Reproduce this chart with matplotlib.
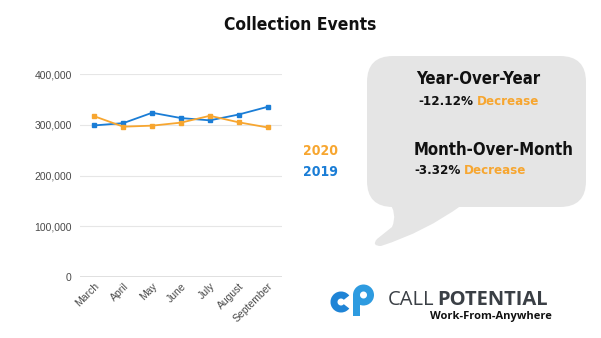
import numpy as np
import matplotlib.pyplot as plt
from matplotlib import patches, font_manager
from matplotlib.path import Path
from matplotlib.ticker import FuncFormatter

months = ['March', 'April', 'May', 'June', 'July', 'August', 'September']
events_2019 = [299000, 303500, 324000, 313500, 309000, 320500, 335700]
events_2020 = [317000, 296500, 298500, 304500, 318000, 305100, 295000]
yticks = [0, 100000, 200000, 300000, 400000]

BLUE = '#1a7dd6'
ORANGE = '#f7a630'
GREY_BUBBLE = '#e5e5e5'


def find_condensed_bold():
    # look for any installed condensed / narrow bold face
    for f in font_manager.fontManager.ttflist:
        nm = (f.name + ' ' + str(f.stretch)).lower()
        if ('condensed' in nm or 'narrow' in nm) and f.weight in (700, 'bold'):
            return font_manager.FontProperties(fname=f.fname)
    return None


COND_FP = find_condensed_bold()
FOUND = COND_FP is not None


def cond(size):
    if FOUND:
        fp = COND_FP.copy()
        fp.set_size(size)
        return dict(fontproperties=fp)
    return dict(family=['Roboto', 'DejaVu Sans'], weight='bold', fontsize=size * 0.82)


W, H = 601, 338
fig = plt.figure(figsize=(W / 100, H / 100), dpi=100)

bg = fig.add_axes([0, 0, 1, 1], zorder=0)
bg.set_xlim(0, W)
bg.set_ylim(H, 0)
bg.axis('off')

# speech bubble
bubble = patches.FancyBboxPatch((367, 56), 219, 151,
                                boxstyle='round,pad=0,rounding_size=26',
                                fc=GREY_BUBBLE, ec='none')
bg.add_patch(bubble)
tail = Path([(388, 200), (398, 214), (392, 227), (377, 239),
             (371, 246), (381, 246), (425, 232), (462, 205), (388, 200)],
            [Path.MOVETO, Path.CURVE3, Path.CURVE3, Path.LINETO,
             Path.CURVE3, Path.CURVE3, Path.CURVE3, Path.CURVE3, Path.CLOSEPOLY])
bg.add_patch(patches.PathPatch(tail, fc=GREY_BUBBLE, ec='none'))

# title
fig.text(300 / W, 1 - 25 / H, 'Collection Events', ha='center', va='center',
         color='#111111', **cond(12.5))

# bubble text
fig.text(416 / W, 1 - 79 / H, 'Year-Over-Year', ha='left', va='center',
         color='#111111', **cond(12))
t1 = fig.text(418 / W, 1 - 101 / H, '-12.12%', ha='left', va='center',
              color='#111111', **cond(9.5))
bg.annotate('Decrease', xy=(1, 0.5), xycoords=t1, xytext=(2.5, 0),
            textcoords='offset points', ha='left', va='center',
            color=ORANGE, **cond(9.5))
fig.text(414 / W, 1 - 150 / H, 'Month-Over-Month', ha='left', va='center',
         color='#111111', **cond(12))
t2 = fig.text(414 / W, 1 - 171 / H, '-3.32%', ha='left', va='center',
              color='#111111', **cond(9.5))
bg.annotate('Decrease', xy=(1, 0.5), xycoords=t2, xytext=(2.5, 0),
            textcoords='offset points', ha='left', va='center',
            color=ORANGE, **cond(9.5))

# legend-like labels
fig.text(320 / W, 1 - 151 / H, '2020', ha='center', va='center',
         color=ORANGE, **cond(10))
fig.text(320 / W, 1 - 172 / H, '2019', ha='center', va='center',
         color=BLUE, **cond(10))

# logo icon
bg.add_patch(patches.Wedge((341, 302), 10.5, 38, 322, width=7, fc='#1f84d6', ec='none'))
bg.add_patch(patches.Wedge((363.5, 295), 10.5, 0, 360, width=7, fc='#2e9be0', ec='none'))
bg.add_patch(patches.Rectangle((353, 295), 7, 21, fc='#2e9be0', ec='none'))

# logo text
fig.text(388 / W, 1 - 300 / H, 'CALL', family=['Open Sans', 'DejaVu Sans'],
         fontsize=14.5, ha='left', va='center', color='#3a3f45')
fig.text(437 / W, 1 - 300 / H, 'POTENTIAL', family=['Open Sans', 'DejaVu Sans'],
         weight='bold', fontsize=14.5, ha='left', va='center', color='#3a3f45')
fig.text(552 / W, 1 - 317 / H, 'Work-From-Anywhere', family=['Open Sans', 'DejaVu Sans'],
         weight='bold', fontsize=8, ha='right', va='center', color='#111111')

# chart
ax = fig.add_axes([80 / W, 1 - 276.7 / H, 202 / W, 202.4 / H], zorder=1)
ax.patch.set_alpha(0)
x = np.arange(len(months))
ax.plot(x, events_2019, color=BLUE, lw=1.3, marker='s', ms=2.2, zorder=3)
ax.plot(x, events_2020, color=ORANGE, lw=1.3, marker='s', ms=2.2, zorder=3)
ax.set_xlim(-0.5, len(months) - 0.5)
ax.set_ylim(0, 400000)
ax.set_yticks(yticks)
ax.yaxis.set_major_formatter(FuncFormatter(lambda v, p: f'{int(v):,}'))
ax.set_xticks(x)
ax.set_xticklabels(months, rotation=45, ha='right', rotation_mode='anchor')
for s in ax.spines.values():
    s.set_visible(False)
ax.grid(axis='y', color='#e6e6e6', lw=0.8)
ax.axhline(0, color='#dddddd', lw=2, zorder=2)
ax.tick_params(length=0, labelsize=7.5, labelcolor='#4a4a4a')
ax.tick_params(axis='y', pad=6)
ax.tick_params(axis='x', pad=3)
for lbl in ax.get_xticklabels() + ax.get_yticklabels():
    lbl.set_family(['Liberation Sans', 'DejaVu Sans'])

fig.savefig('out.png', dpi=100)
